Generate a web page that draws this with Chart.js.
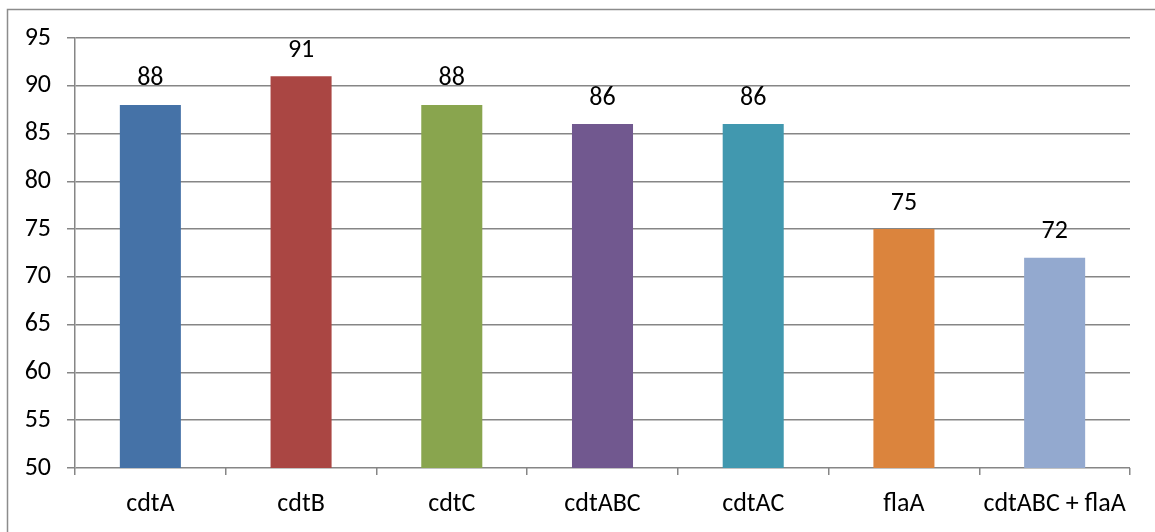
<!DOCTYPE html>
<html>
<head>
<meta charset="utf-8">
<script src="https://cdn.jsdelivr.net/npm/chart.js@4/dist/chart.umd.min.js"></script>
<style>
  html, body { margin: 0; padding: 0; background: #ffffff; }
  #wrap { width: 1155px; height: 532px; position: relative; }
</style>
</head>
<body>
<div id="wrap"><canvas id="c" width="1155" height="532"></canvas></div>
<script>
const categories = ['cdtA', 'cdtB', 'cdtC', 'cdtABC', 'cdtAC', 'flaA', 'cdtABC + flaA'];
const values = [88, 91, 88, 86, 86, 75, 72];
const barColors = ['#4572A7', '#AA4643', '#89A54E', '#71588F', '#4198AF', '#DB843D', '#93A9CF'];
const yMin = 50;
const yMax = 95;
const yStep = 5;

const FONT = 'Carlito, Lato, "Liberation Sans", sans-serif';
const FONT_SIZE = 26;
const GRID = '#868686';

// Value labels above each bar
const valueLabels = {
  id: 'valueLabels',
  afterDatasetsDraw(chart) {
    const ctx = chart.ctx;
    const meta = chart.getDatasetMeta(0);
    ctx.save();
    ctx.font = FONT_SIZE + 'px ' + FONT;
    ctx.fillStyle = '#000000';
    ctx.textAlign = 'center';
    ctx.textBaseline = 'middle';
    meta.data.forEach((bar, i) => {
      ctx.fillText(String(values[i]), bar.x, bar.y - 26);
    });
    ctx.restore();
  }
};

// Frame line along the top and left edges
const frame = {
  id: 'frame',
  beforeDraw(chart) {
    const ctx = chart.ctx;
    ctx.save();
    ctx.strokeStyle = '#8c8c8c';
    ctx.lineWidth = 1.5;
    ctx.beginPath();
    ctx.moveTo(7.5, chart.height);
    ctx.lineTo(7.5, 9.5);
    ctx.lineTo(chart.width, 9.5);
    ctx.stroke();
    ctx.restore();
  }
};

new Chart(document.getElementById('c'), {
  type: 'bar',
  data: {
    labels: categories,
    datasets: [{
      data: values,
      backgroundColor: barColors,
      borderWidth: 0,
      barPercentage: 0.405,
      categoryPercentage: 1.0
    }]
  },
  options: {
    responsive: false,
    animation: false,
    devicePixelRatio: 1,
    layout: { padding: { left: 0, top: 38, right: 25, bottom: 0 } },
    plugins: {
      legend: { display: false },
      tooltip: { enabled: false }
    },
    scales: {
      x: {
        offset: true,
        grid: {
          offset: true,
          drawOnChartArea: false,
          drawTicks: true,
          tickLength: 7,
          color: GRID,
          lineWidth: 1.5
        },
        border: { display: false },
        ticks: {
          color: '#000000',
          font: { family: FONT, size: FONT_SIZE },
          padding: 14,
          maxRotation: 0,
          autoSkip: false
        },
        afterFit(scale) { scale.height = 64; }
      },
      y: {
        min: yMin,
        max: yMax,
        grid: {
          color: GRID,
          lineWidth: 1.5,
          drawTicks: true,
          tickLength: 8
        },
        border: { display: true, color: GRID, width: 1.5 },
        ticks: {
          stepSize: yStep,
          color: '#000000',
          font: { family: FONT, size: FONT_SIZE },
          padding: 16
        },
        afterFit(scale) { scale.width = 75; }
      }
    }
  },
  plugins: [frame, valueLabels]
});
</script>
</body>
</html>
